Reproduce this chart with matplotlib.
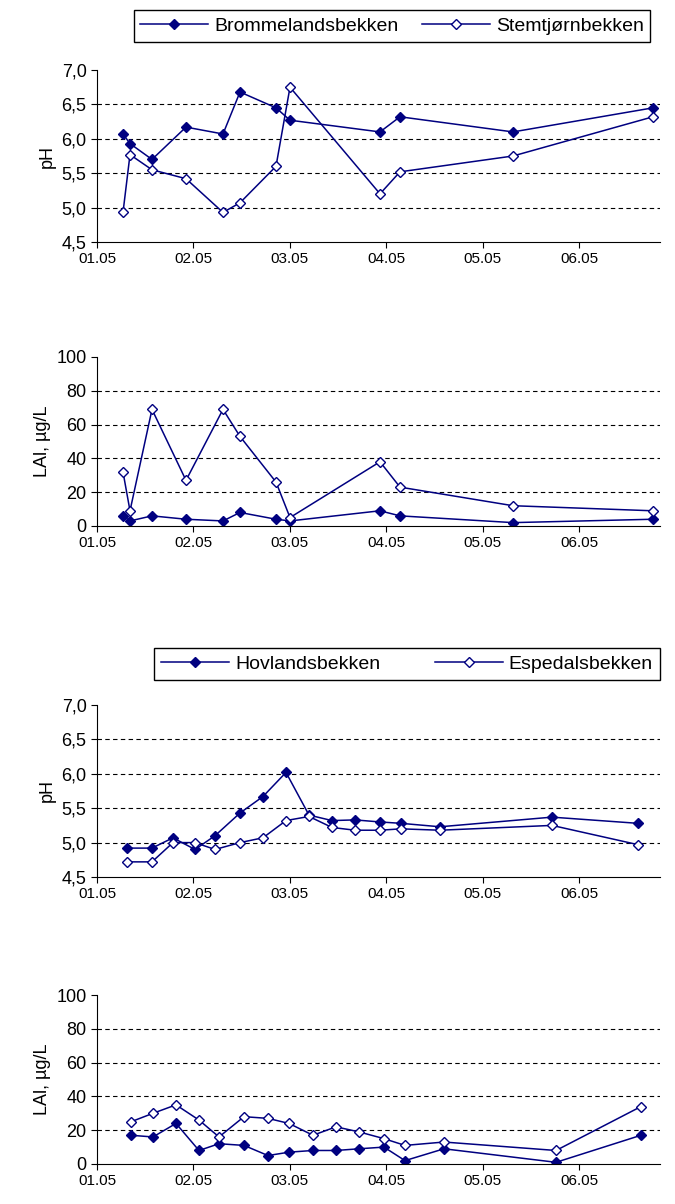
import matplotlib
matplotlib.use("Agg")
import matplotlib.pyplot as plt
import numpy as np

plt.rcParams['font.family'] = ['Liberation Sans', 'DejaVu Sans']

def d(px): return [(p - 97) / 96.4 for p in px]

x_top = d([123, 130, 152, 186, 223, 240, 276, 290, 380, 400, 513, 653])
ph_brom = [6.07, 5.93, 5.70, 6.17, 6.07, 6.68, 6.45, 6.27, 6.10, 6.32, 6.10, 6.45]
ph_stem = [4.93, 5.77, 5.55, 5.42, 4.93, 5.07, 5.60, 6.75, 5.20, 5.52, 5.75, 6.32]
lal_brom = [6, 3, 6, 4, 3, 8, 4, 3, 9, 6, 2, 4]
lal_stem = [32, 9, 69, 27, 69, 53, 26, 5, 38, 23, 12, 9]

x_p3 = d([127, 152, 173, 195, 215, 240, 263, 286, 309, 332, 355, 380, 401, 440, 552, 638])
ph_hov = [4.92, 4.92, 5.07, 4.90, 5.10, 5.43, 5.67, 6.02, 5.40, 5.32, 5.33, 5.30, 5.28, 5.23, 5.37, 5.28]
ph_esp = [4.72, 4.72, 5.00, 5.00, 4.90, 5.00, 5.07, 5.32, 5.38, 5.22, 5.18, 5.18, 5.20, 5.18, 5.25, 4.97]
x_p4 = d([131, 153, 176, 199, 219, 244, 268, 289, 313, 336, 359, 384, 405, 444, 556, 641])
lal_hov = [17, 16, 24, 8, 12, 11, 5, 7, 8, 8, 9, 10, 2, 9, 1, 17]
lal_esp = [25, 30, 35, 26, 16, 28, 27, 24, 17, 22, 19, 15, 11, 13, 8, 34]

xticks = [0, 1, 2, 3, 4, 5]
xlabels = ['01.05', '02.05', '03.05', '04.05', '05.05', '06.05']
C = '#000080'

fig = plt.figure(figsize=(6.75, 12.04), dpi=100)
L, W = 97/675, 563/675
rects = [(70, 242), (357, 526), (705, 877), (995, 1164)]
axes = [fig.add_axes([L, 1 - b/1204, W, (b - t)/1204]) for t, b in rects]

def style(ax, ph):
    ax.set_xlim(0, 563/96.4)
    ax.set_xticks(xticks, xlabels)
    if ph:
        ax.set_ylim(4.5, 7.0)
        yt = np.arange(4.5, 7.01, 0.5)
        ax.set_yticks(yt, [f"{v:.1f}".replace('.', ',') for v in yt])
        ax.set_ylabel('pH', fontsize=13)
    else:
        ax.set_ylim(0, 100)
        ax.set_yticks(range(0, 101, 20))
        ax.set_ylabel('LAl, µg/L', fontsize=13)
    for v in ax.get_yticks()[1:-1]:
        ax.axhline(v, color='black', ls=(0, (4, 3)), lw=0.8, zorder=0)
    ax.tick_params(labelsize=11, direction='out', length=4)
    ax.tick_params(axis='y', labelsize=13)
    for s in ['top', 'right']:
        ax.spines[s].set_visible(False)

def plot(ax, x, a, b):
    l1, = ax.plot(x, a, color=C, marker='D', ms=5.5, mfc=C, lw=1.1)
    l2, = ax.plot(x, b, color=C, marker='D', ms=5.5, mfc='white', lw=1.1)
    return l1, l2

h = plot(axes[0], x_top, ph_brom, ph_stem)
plot(axes[1], x_top, lal_brom, lal_stem)
h2 = plot(axes[2], x_p3, ph_hov, ph_esp)
plot(axes[3], x_p4, lal_hov, lal_esp)
for i, ax in enumerate(axes):
    style(ax, i % 2 == 0)

fig.legend(h, ['Brommelandsbekken', 'Stemtjørnbekken'], loc='center',
           bbox_to_anchor=((127+657)/2/675, 1 - 26/1204), ncol=2, fontsize=14,
           fancybox=False, edgecolor='black', framealpha=1, handlelength=3.5, columnspacing=1.2,
           handletextpad=0.3, borderpad=0.35)
fig.legend(h2, ['Hovlandsbekken', 'Espedalsbekken'], loc='center',
           bbox_to_anchor=((157+657)/2/675, 1 - 664/1204), ncol=2, fontsize=14,
           fancybox=False, edgecolor='black', framealpha=1, handlelength=3.5, columnspacing=2.8,
           handletextpad=0.3, borderpad=0.35)
fig.savefig('out.png', dpi=100)
